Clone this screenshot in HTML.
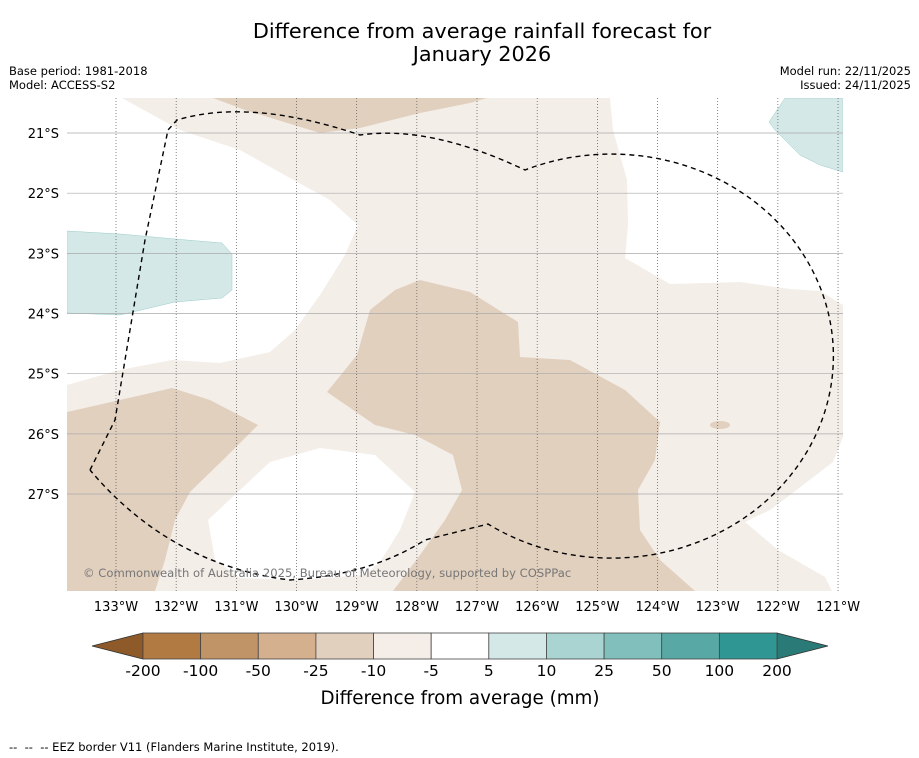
<!DOCTYPE html>
<html><head><meta charset="utf-8">
<style>
body{margin:0;background:#fff;width:919px;height:758px;overflow:hidden;font-family:"DejaVu Sans","Liberation Sans",sans-serif;}
svg{position:absolute;left:0;top:0}
</style></head>
<body>
<svg id="chart" width="919" height="758" viewBox="0 0 919 758">
<rect width="919" height="758" fill="#fff"/>
<text x="482" y="38" font-size="20.8" text-anchor="middle">Difference from average rainfall forecast for</text>
<text x="482" y="61" font-size="20.8" text-anchor="middle">January 2026</text>
<text x="9" y="75" font-size="11.5">Base period: 1981-2018</text>
<text x="9" y="89" font-size="11.5">Model: ACCESS-S2</text>
<text x="911" y="75" font-size="11.5" text-anchor="end">Model run: 22/11/2025</text>
<text x="911" y="89" font-size="11.5" text-anchor="end">Issued: 24/11/2025</text>
<defs><clipPath id="mapclip"><rect x="67" y="98" width="776" height="493"/></clipPath></defs>
<g clip-path="url(#mapclip)">
<rect x="67" y="98" width="776" height="493" fill="#f4eee9"/>
<polygon fill="#fff" points="67,98 122,98 180,130 240,150 290,178 330,200 358,225 345,255 320,295 295,330 270,352 220,363 172,360 120,370 67,385"/>
<polygon fill="#d4e8e7" stroke="#9cc" stroke-width="0.5" points="67,231 120,234 175,239 222,243 232,254 232,290 222,298 175,302 120,315 67,313"/>
<polygon fill="#e2d0bf" points="213,98 487,98 470,103 420,113 360,128 320,133 245,110"/>
<polygon fill="#fff" points="487,98 610,98 613,130 627,180 628,225 625,258 670,284 740,282 790,289 820,291 843,305 843,98"/>
<polygon fill="#d4e8e7" stroke="#9cc" stroke-width="0.5" points="785,98 843,98 843,172 820,165 800,155 775,130 769,122"/>
<polygon fill="#e2d0bf" points="420,280 470,292 518,322 520,357 570,360 625,390 660,422 655,460 638,490 640,530 660,560 695,591 393,591 420,555 445,520 462,490 453,455 415,435 375,425 327,392 357,355 370,310 395,290"/>
<polygon fill="#e2d0bf" points="67,412 120,400 172,388 210,400 258,425 225,458 190,492 175,520 165,560 155,591 67,591"/>
<polygon fill="#fff" points="208,520 240,490 270,462 320,448 375,455 415,492 400,530 380,562 365,575 300,580 240,578 215,560"/>
<polygon fill="#fff" points="843,437 833,462 820,472 790,495 770,510 745,522 778,550 825,577 832,591 843,591"/>
<ellipse cx="720" cy="425" rx="10" ry="4" fill="#e2d0bf"/>
<g id="grid"></g>
<path fill="none" stroke="#000" stroke-width="1.4" stroke-dasharray="5,4" d="M90,470 L115,420 L145,240 L168,130 L177,120 Q250,98 360,135 Q430,125 525,170 A222 202 0 1 1 488,524 L425,540 Q370,575 290,580 Q170,565 90,470"/>
<text x="83" y="577" font-size="11.6" fill="#777">© Commonwealth of Australia 2025, Bureau of Meteorology, supported by COSPPac</text>
</g>
<g id="xaxis"></g>
<g id="yaxis"></g>
<g id="cbar"></g>
<text x="460" y="704" font-size="18.3" text-anchor="middle">Difference from average (mm)</text>
<text x="9" y="751" font-size="11.5" xml:space="preserve">--  --  -- EEZ border V11 (Flanders Marine Institute, 2019).</text>
</svg>
<script>
const lons=[133,132,131,130,129,128,127,126,125,124,123,122,121];
const lats=[21,22,23,24,25,26,27];
const cbLevels=["-200","-100","-50","-25","-10","-5","5","10","25","50","100","200"];
const cbColors=["#b07a42","#c19468","#d4b08e","#e2d0bf","#f4ede8","#ffffff","#d4e8e7","#a9d4d2","#80bfbb","#58a9a6","#2f9693"];
const NS="http://www.w3.org/2000/svg";
function mk(t,a,p){const e=document.createElementNS(NS,t);for(const k in a)e.setAttribute(k,a[k]);p.appendChild(e);return e;}
const xS=l=>116+(133-l)*60.17;
const yS=l=>133+(l-21)*60.17;
const grid=document.getElementById('grid'),xa=document.getElementById('xaxis'),ya=document.getElementById('yaxis'),cb=document.getElementById('cbar');
lons.forEach(l=>{
 const ln=mk('line',{x1:xS(l),x2:xS(l),y1:98,y2:591,stroke:'#555','stroke-width':0.7,'stroke-dasharray':'1,2'},grid);
 
 
 const t=mk('text',{x:xS(l),y:611,'font-size':13,'text-anchor':'middle'},xa);t.textContent=l+'°W';
 
 
});
lats.forEach(l=>{
 const ln=mk('line',{x1:67,x2:843,y1:yS(l),y2:yS(l),stroke:'#aaa','stroke-width':0.7},grid);
 
 
 const t=mk('text',{x:59,y:yS(l)+5,'font-size':13,'text-anchor':'end'},ya);t.textContent=l+'°S';
 
 
});
const x0=143,x1=777,y0=633,h=26,w=(x1-x0)/cbColors.length;
const le=mk('polygon',{points:`${x0},${y0} ${x0},${y0+h} 92,${y0+h/2}`,fill:'#8e5a2a',stroke:'#333','stroke-width':0.8},cb);


const re=mk('polygon',{points:`${x1},${y0} ${x1},${y0+h} 828,${y0+h/2}`,fill:'#2a7a77',stroke:'#333','stroke-width':0.8},cb);


cbColors.forEach((c,i)=>{
 const r=mk('rect',{x:x0+i*w,y:y0,width:w,height:h,fill:c,stroke:'#444','stroke-width':0.8},cb);
 
 
});
cbLevels.forEach((v,i)=>{
 const t=mk('text',{x:x0+i*w,y:676,'font-size':15.5,'text-anchor':'middle'},cb);t.textContent=v;
 
 
});
</script>
</body></html>
